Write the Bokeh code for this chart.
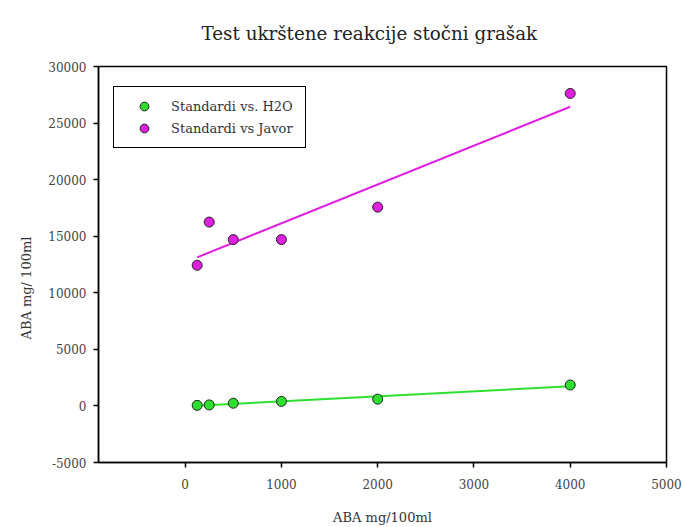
import numpy as np
from bokeh.plotting import figure
from bokeh.models import Range1d, FixedTicker, Legend, LegendItem, Title
from bokeh.embed import file_html
from bokeh.resources import INLINE

# Standard concentrations (ABA mg/100ml)
concentrations = [125, 250, 500, 1000, 2000, 4000]
# Measured responses
standardi_h2o = [50, 90, 240, 400, 600, 1850]
standardi_javor = [12430, 16250, 14700, 14700, 17570, 27620]

x_ticks = [0, 1000, 2000, 3000, 4000, 5000]
y_ticks = [-5000, 0, 5000, 10000, 15000, 20000, 25000, 30000]

SERIF = "DejaVu Serif"
GREEN = "#2ee02e"
MAGENTA = "#e020e0"

X_MIN, X_MAX = -900, 5000
Y_MIN, Y_MAX = -5000, 30000

p = figure(width=684, height=527, output_backend="svg", toolbar_location=None,
           x_range=Range1d(X_MIN, X_MAX), y_range=Range1d(Y_MIN, Y_MAX),
           min_border_left=98, min_border_right=18, min_border_top=66, min_border_bottom=64)

p.title = Title(text="Test ukrštene reakcije stočni grašak", align="left", offset=103,
                vertical_align="top",
                text_font=SERIF, text_font_size="18.3px", text_font_style="normal",
                text_color="#222222", standoff=42)

p.grid.visible = False
p.outline_line_color = "black"
p.outline_line_width = 1.5
p.background_fill_color = "white"
p.border_fill_color = "white"

for ax in (p.xaxis, p.yaxis):
    ax.axis_line_color = "black"
    ax.axis_line_width = 1.5
    ax.major_tick_line_color = "black"
    ax.major_tick_line_width = 1.5
    ax.major_tick_in = 0
    ax.major_tick_out = 5
    ax.minor_tick_line_color = None
    ax.major_label_text_font = SERIF
    ax.major_label_text_font_size = "12px"
    ax.major_label_text_color = "#444444"

p.xaxis.ticker = FixedTicker(ticks=x_ticks)
p.yaxis.ticker = FixedTicker(ticks=y_ticks)
p.yaxis.major_label_overrides = {t: str(t) for t in y_ticks}
p.xaxis.axis_label = "ABA mg/100ml"
p.xaxis.axis_label_text_font = SERIF
p.xaxis.axis_label_text_font_size = "13px"
p.xaxis.axis_label_text_font_style = "normal"
p.xaxis.axis_label_text_color = "#333333"
p.xaxis.major_label_standoff = 11
p.xaxis.axis_label_standoff = 18
p.yaxis.major_label_standoff = 7

# y-axis title, placed in the left panel a little below the middle of the axis
p.add_layout(Title(text="ABA mg/ 100ml", align="left", offset=123, standoff=24,
                   text_font=SERIF, text_font_size="13px", text_font_style="normal",
                   text_color="#333333"), "left")

# Least-squares trend lines over the measured range
x_arr = np.array(concentrations, dtype=float)
xs_fit = np.array([x_arr.min(), x_arr.max()])
for ys, col in ((standardi_h2o, GREEN), (standardi_javor, MAGENTA)):
    k, n = np.polyfit(x_arr, np.array(ys, dtype=float), 1)
    p.line(xs_fit, k * xs_fit + n, line_color=col, line_width=2)

r_h2o = p.scatter(concentrations, standardi_h2o, size=10, fill_color=GREEN,
                  line_color="#222222", line_width=1)
r_javor = p.scatter(concentrations, standardi_javor, size=10, fill_color=MAGENTA,
                    line_color="#222222", line_width=1)

legend = Legend(items=[LegendItem(label="Standardi vs. H2O", renderers=[r_h2o]),
                       LegendItem(label="Standardi vs Javor", renderers=[r_javor])],
                location=(15, 314), padding=8, spacing=-2,
                glyph_width=44, glyph_height=22, label_standoff=5, label_width=126,
                label_text_font=SERIF, label_text_font_size="13px",
                label_text_color="#333333",
                border_line_color="black", border_line_width=1.5, border_line_alpha=1.0,
                background_fill_color="white", background_fill_alpha=1.0)
p.add_layout(legend, "center")

open("out.html", "w").write(file_html(p, INLINE))
